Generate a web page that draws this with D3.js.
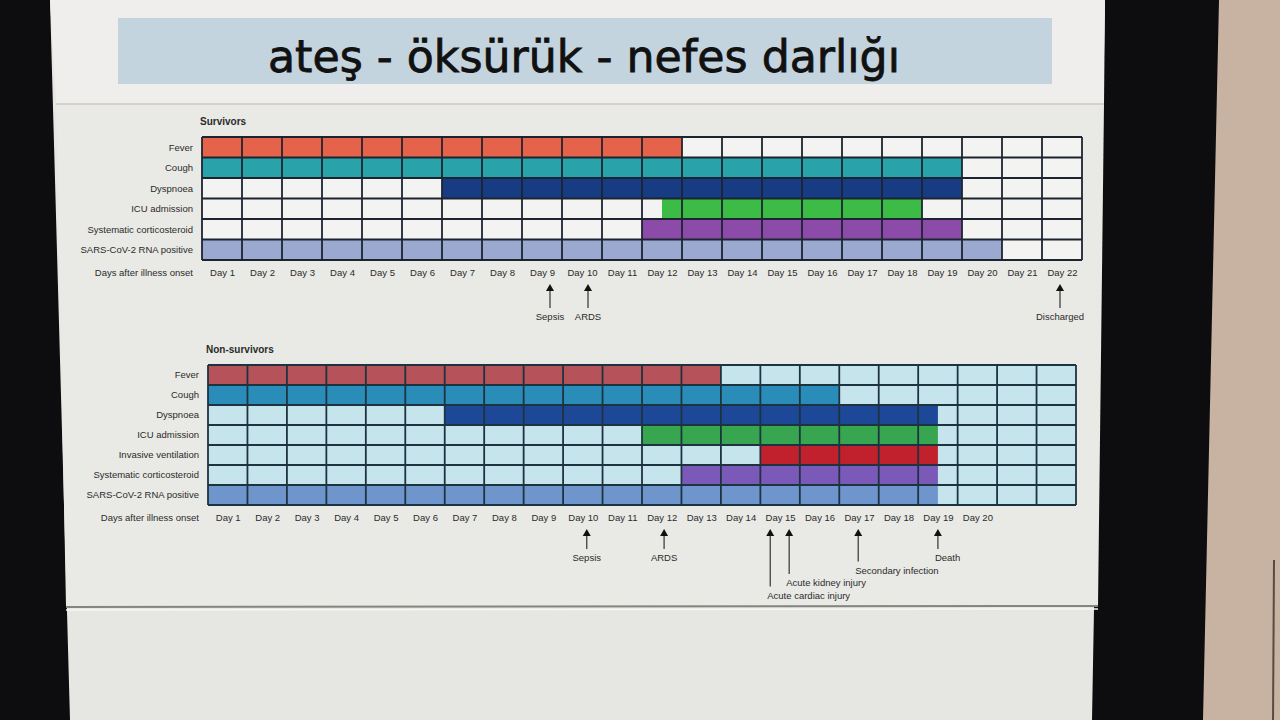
<!DOCTYPE html>
<html>
<head>
<meta charset="utf-8">
<script src="https://cdn.jsdelivr.net/npm/d3@7"></script>
<style>
  html, body { margin: 0; padding: 0; background: #0d0d0f; }
  svg { display: block; }
  text { font-family: "Liberation Sans", Arial, sans-serif; fill: #2b2b2b; }
</style>
</head>
<body>
<svg id="chart" width="1280" height="720"></svg>
<script>
var titleText = 'ateş - öksürük - nefes darlığı'

// survivors panel
var survTitle = 'Survivors'
var survRows = ['Fever', 'Cough', 'Dyspnoea', 'ICU admission', 'Systematic corticosteroid', 'SARS-CoV-2 RNA positive']
var survStart = [0, 0, 6, 11.5, 11, 0]
var survEnd = [12, 19, 19, 18, 19, 20]
var survColors = ['#e5634b', '#2aa2a9', '#173c83', '#3cbc47', '#8c4ba8', '#9ba9d0']
var survDays = d3.range(1, 23)
var survEvents = ['Sepsis', 'ARDS', 'Discharged']
var survEventDay = [8.7, 9.65, 21.45]

// non-survivors panel
var nonTitle = 'Non-survivors'
var nonRows = ['Fever', 'Cough', 'Dyspnoea', 'ICU admission', 'Invasive ventilation', 'Systematic corticosteroid', 'SARS-CoV-2 RNA positive']
var nonStart = [0, 0, 6, 11, 14, 12, 0]
var nonEnd = [13, 16, 18.5, 18.5, 18.5, 18.5, 18.5]
var nonColors = ['#b5525a', '#2a8cb8', '#1d4897', '#38a650', '#c0212c', '#7a59b8', '#6f96cc']
var nonDays = d3.range(1, 21)
var nonEvents = ['Sepsis', 'ARDS', 'Acute cardiac injury', 'Acute kidney injury', 'Secondary infection', 'Death']
var nonEventDay = [9.6, 11.56, 14.25, 14.73, 16.48, 18.5]
var nonEventTier = [0, 0, 3, 2, 1, 0]

var axisLabel = 'Days after illness onset'
var nCols = 22

var svg = d3.select('#chart')

// photo surroundings: screen, bezel, wall
svg.append('polygon').attr('points', '1219,0 1280,0 1280,720 1203,720').attr('fill', '#c8b2a2')
svg.append('line').attr('x1', 1274).attr('y1', 560).attr('x2', 1273).attr('y2', 720).attr('stroke', '#5a4a40').attr('stroke-width', 2)
svg.append('polygon').attr('points', '50,0 1105,0 1092,720 70,720').attr('fill', '#e6e6e2')
svg.append('polygon').attr('points', '50,0 1105,0 1104,104 56,104').attr('fill', '#efeeec')
svg.append('polygon').attr('points', '56,104 1104,104 1098,606 66,606').attr('fill', '#e9e9e5')
svg.append('line').attr('x1', 56).attr('y1', 104).attr('x2', 1104).attr('y2', 104).attr('stroke', '#c9c9c5').attr('stroke-width', 1.5)
svg.append('line').attr('x1', 66).attr('y1', 607).attr('x2', 1098).attr('y2', 606).attr('stroke', '#85857f').attr('stroke-width', 2)
svg.append('line').attr('x1', 66).attr('y1', 610).attr('x2', 1098).attr('y2', 609).attr('stroke', '#f6f6f4').attr('stroke-width', 1.5)

// title banner
svg.append('rect').attr('x', 118).attr('y', 18).attr('width', 934).attr('height', 66).attr('fill', '#c3d4df')
svg.append('text')
  .attr('x', 584).attr('y', 72)
  .attr('text-anchor', 'middle')
  .attr('textLength', 632).attr('lengthAdjust', 'spacingAndGlyphs')
  .style('font-family', '"DejaVu Sans", sans-serif')
  .style('font-size', '44px')
  .style('fill', '#111')
  .style('stroke', '#111').style('stroke-width', 0.8)
  .text(titleText)

function drawPanel(opt) {
  var g = svg.append('g')

  var x = d3.scaleLinear().domain([0, nCols]).range([opt.x0, opt.x1])
  var y = d3.scaleBand().domain(opt.rows).range([opt.y0, opt.y1])

  // panel heading
  g.append('text')
    .attr('x', opt.x0 - 2).attr('y', opt.y0 - 12)
    .style('font-size', '10px').style('font-weight', 'bold')
    .text(opt.title)

  // empty cells
  g.append('rect')
    .attr('x', x(0)).attr('y', opt.y0)
    .attr('width', x(nCols) - x(0)).attr('height', opt.y1 - opt.y0)
    .attr('fill', opt.empty)

  // bars
  g.selectAll('.bar')
    .data(opt.rows)
    .enter()
    .append('rect')
      .attr('class', 'bar')
      .attr('x', (d, i) => x(opt.start[i]))
      .attr('y', d => y(d))
      .attr('width', (d, i) => x(opt.end[i]) - x(opt.start[i]))
      .attr('height', y.bandwidth())
      .attr('fill', (d, i) => opt.colors[i])

  // grid
  g.selectAll('.vline')
    .data(d3.range(0, nCols + 1))
    .enter()
    .append('line')
      .attr('x1', d => x(d)).attr('x2', d => x(d))
      .attr('y1', opt.y0).attr('y2', opt.y1)
      .attr('stroke', opt.grid).attr('stroke-width', 1.8)
  g.selectAll('.hline')
    .data(d3.range(0, opt.rows.length + 1))
    .enter()
    .append('line')
      .attr('x1', x(0)).attr('x2', x(nCols))
      .attr('y1', d => opt.y0 + d * y.step()).attr('y2', d => opt.y0 + d * y.step())
      .attr('stroke', opt.grid).attr('stroke-width', 1.8)

  // row labels
  g.selectAll('.rlab')
    .data(opt.rows)
    .enter()
    .append('text')
      .attr('x', opt.x0 - 9)
      .attr('y', d => y(d) + y.bandwidth() / 2)
      .attr('dy', '0.35em')
      .attr('text-anchor', 'end')
      .style('font-size', '9.5px')
      .text(d => d)

  g.append('text')
    .attr('x', opt.x0 - 9).attr('y', opt.y1 + 13)
    .attr('dy', '0.35em')
    .attr('text-anchor', 'end')
    .style('font-size', '9.5px')
    .text(axisLabel)

  // day labels
  var axis = d3.axisBottom(x)
    .tickValues(opt.days.map(d => d - 0.5))
    .tickFormat(d => 'Day ' + (d + 0.5))
    .tickSize(0)
    .tickPadding(9)
  var ag = g.append('g').attr('transform', 'translate(0,' + opt.y1 + ')').call(axis)
  ag.select('.domain').remove()
  ag.selectAll('text').style('font-size', '9.5px').style('font-family', '"Liberation Sans", Arial, sans-serif').attr('fill', '#2b2b2b')

  // event arrows
  var top = opt.y1 + 24
  opt.events.forEach((ev, i) => {
    var ax = x(opt.eventDay[i])
    var tier = opt.tier ? opt.tier[i] : 0
    var bottom = top + opt.arrowLen + tier * 12.5
    g.append('line')
      .attr('x1', ax).attr('x2', ax)
      .attr('y1', top + 5).attr('y2', bottom)
      .attr('stroke', '#333').attr('stroke-width', 1.2)
    g.append('path')
      .attr('d', d3.line()([[ax - 4, top + 7], [ax, top], [ax + 4, top + 7]]) + 'Z')
      .attr('fill', '#111')
    var anchorMid = tier == 0 && ev != 'Death'
    g.append('text')
      .attr('x', anchorMid ? ax : ax - 3)
      .attr('y', bottom + 12)
      .attr('text-anchor', anchorMid ? 'middle' : 'start')
      .style('font-size', '9.5px')
      .text(ev)
  })
}

drawPanel({
  title: survTitle, rows: survRows, start: survStart, end: survEnd, colors: survColors,
  days: survDays, events: survEvents, eventDay: survEventDay, arrowLen: 24,
  x0: 202, x1: 1082, y0: 137, y1: 260,
  empty: '#f3f3f1', grid: '#1c2430'
})

drawPanel({
  title: nonTitle, rows: nonRows, start: nonStart, end: nonEnd, colors: nonColors,
  days: nonDays, events: nonEvents, eventDay: nonEventDay, tier: nonEventTier, arrowLen: 20,
  x0: 208, x1: 1076, y0: 365, y1: 505,
  empty: '#c6e4ec', grid: '#1d3340'
})
</script>
</body>
</html>
